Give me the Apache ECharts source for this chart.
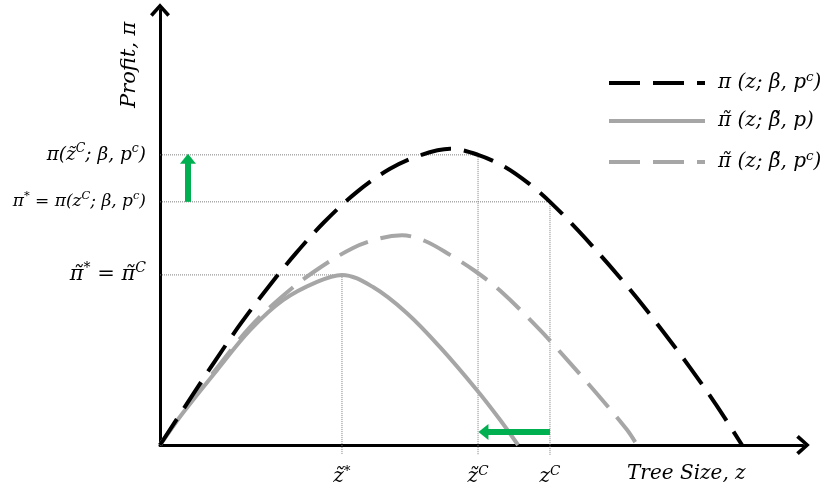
<!DOCTYPE html>
<html><head><meta charset="utf-8">
<script src="https://cdn.jsdelivr.net/npm/echarts@6/dist/echarts.min.js"></script>
<style>html,body{margin:0;padding:0;background:#fff}#c{width:836px;height:494px}</style>
</head><body><div id="c"></div>
<script>
// ---- Data (arbitrary units: z 0..100, profit 0..100) ----
// Black dashed: pi(z; beta, p^c)
const piZ = [0, 4.98, 8.55, 12.60, 16.95, 21.15, 25.51, 30.64, 35.77, 40.44, 45.10, 49.46, 53.65, 57.54, 60.65, 65.16, 69.83, 74.18, 78.38, 82.43, 86.47, 90.51];
const piV = [0, 11.3, 19.3, 28.0, 36.5, 44.1, 51.2, 58.2, 63.5, 66.6, 68.1, 66.7, 63.9, 59.9, 55.9, 49.1, 41.4, 33.8, 25.8, 17.8, 9.3, 0];
// Gray solid: pi~(z; beta~, p)
const tpZ = [0, 3.58, 8.86, 14.00, 19.13, 24.42, 28.30, 33.13, 38.41, 43.55, 49.30, 52.88, 55.68];
const tpV = [0, 7.4, 17.2, 26.4, 33.3, 37.5, 39.1, 36.3, 30.3, 22.5, 12.6, 5.8, 0];
// Gray dashed: pi~(z; beta~, p^c)
const tcZ = [0, 3.58, 8.86, 14.00, 19.13, 24.11, 30.02, 34.21, 37.64, 41.21, 45.10, 48.99, 52.88, 58.94, 63.61, 68.12, 72.63, 74.18];
const tcV = [0, 7.6, 17.7, 27.1, 34.3, 40.0, 45.3, 47.5, 48.2, 46.9, 43.7, 40.0, 35.5, 26.7, 19.1, 11.5, 3.5, 0];

// Key points
const xTickValues = [28.30, 49.46, 60.65];           // z~*, z~C, zC
const xTickLabels = ['{x|z\u0303}{xs|*}', '{x|z\u0303}{xs|C}', '{x|z}{xs|C}'];
const yTickValues = [39.1, 55.9, 66.7];               // pi~*, pi*, pi(z~C)
const yTickLabels = [
  '{L|\u03C0\u0303}{Ls|*}{L| = \u03C0\u0303}{Ls|C}',
  '{S|\u03C0}{Ss|*}{S| = \u03C0(z}{Ss|C}{S|; \u03B2, p}{Ss|c}{S|)}',
  '{M|\u03C0(z\u0303}{Ms|C}{M|; \u03B2, p}{Ms|c}{M|)}'
];
// guide points (z, profit) matching yTickValues
const guideZ = [28.30, 60.65, 49.46];

// green arrows
const arrowUpZ = 4.35, arrowUpFrom = 55.9, arrowUpTo = 65.8;
const arrowLeftPi = 3.0, arrowLeftFrom = 60.65, arrowLeftTo = 50.3;

const seriesNames = ['pi_beta_pc', 'pitilde_betatilde_p', 'pitilde_betatilde_pc'];
const legendLabels = [
  '{m|\u03C0 (z; \u03B2, p}{ms|c}{m|)}',
  '{m|\u03C0\u0303 (z; \u03B2\u0303, p)}',
  '{m|\u03C0\u0303 (z; \u03B2\u0303, p}{ms|c}{m|)}'
];

const FF = '"DejaVu Serif", "Liberation Serif", serif';
function pairs(xs, ys) { return xs.map((x, i) => [x, ys[i]]); }
function rich(size, sup) {
  return {
    main: {fontFamily: FF, fontStyle: 'italic', fontSize: size, color: '#000', lineHeight: size + 6},
    sup: {fontFamily: FF, fontStyle: 'italic', fontSize: sup, color: '#000', verticalAlign: 'top', lineHeight: size + 6}
  };
}
const rL = rich(21, 14), rM = rich(18.5, 12.5), rS = rich(17, 11.5), rX = rich(20, 13.5), rLeg = rich(20, 13.5);

const chevron = 'path://M10,0 L20,11 L17.3,13.6 L10,5.2 L2.7,13.6 L0,11 Z';
const guideStyle = {color: '#7f7f7f', width: 1, type: [1, 1]};

const guideSeries = [];
yTickValues.forEach((v, i) => {
  guideSeries.push({type: 'line', data: [[0, v], [guideZ[i], v]], symbol: 'none', silent: true, clip: false, lineStyle: guideStyle, z: 1});
  guideSeries.push({type: 'line', data: [[guideZ[i], v], [guideZ[i], -2.3]], symbol: 'none', silent: true, clip: false, lineStyle: guideStyle, z: 1});
});

const chart = echarts.init(document.getElementById('c'), null, {renderer: 'canvas'});
chart.setOption({
  animation: false,
  backgroundColor: '#fff',
  grid: {left: 160, right: 33, top: 10, bottom: 49, containLabel: false},
  xAxis: {
    type: 'value', min: 0, max: 100,
    axisLine: {show: true, onZero: false, lineStyle: {color: '#000', width: 3}, symbol: ['none', chevron], symbolSize: [20, 14]},
    axisTick: {show: false}, splitLine: {show: false},
    axisLabel: {
      customValues: xTickValues, margin: 19,
      formatter: (val) => { let k = 0, d = 1e9; xTickValues.forEach((t, i) => { if (Math.abs(t - val) < d) { d = Math.abs(t - val); k = i; } }); return xTickLabels[k]; },
      rich: {x: rX.main, xs: rX.sup}
    }
  },
  yAxis: {
    type: 'value', min: 0, max: 100,
    axisLine: {show: true, onZero: false, lineStyle: {color: '#000', width: 3}, symbol: ['none', chevron], symbolSize: [20, 14]},
    axisTick: {show: false}, splitLine: {show: false},
    axisLabel: {
      customValues: yTickValues, margin: 14,
      formatter: (val) => { let k = 0, d = 1e9; yTickValues.forEach((t, i) => { if (Math.abs(t - val) < d) { d = Math.abs(t - val); k = i; } }); return yTickLabels[k]; },
      rich: {L: rL.main, Ls: rL.sup, M: rM.main, Ms: rM.sup, S: rS.main, Ss: rS.sup}
    }
  },
  legend: {
    data: seriesNames, orient: 'vertical', left: 607, top: 70, padding: 0,
    itemWidth: 96, itemHeight: 20, itemGap: 18,
    lineStyle: {width: 4},
    itemStyle: {opacity: 0},
    formatter: (name) => legendLabels[seriesNames.indexOf(name)],
    textStyle: {padding: [0, 0, 0, 8], rich: {m: rLeg.main, ms: rLeg.sup}},
    selectedMode: false
  },
  graphic: [
    {type: 'text', x: 627, y: 474, style: {text: 'Tree Size, z', font: 'italic 20px ' + FF, fill: '#000', align: 'left', verticalAlign: 'middle'}},
    {type: 'text', x: 130, y: 108, rotation: Math.PI / 2, style: {text: 'Profit, \u03C0', font: 'italic 21px ' + FF, fill: '#000', align: 'left', verticalAlign: 'middle'}}
  ],
  series: [
    {name: seriesNames[0], type: 'line', data: pairs(piZ, piV), smooth: 0.35, symbol: 'none', lineStyle: {color: '#000', width: 4, type: [31, 13]}, itemStyle: {color: '#000'}, z: 4},
    {name: seriesNames[1], type: 'line', data: pairs(tpZ, tpV), smooth: 0.35, symbol: 'none', lineStyle: {color: '#a6a6a6', width: 4, type: 'solid'}, itemStyle: {color: '#a6a6a6'}, z: 3},
    {name: seriesNames[2], type: 'line', data: pairs(tcZ, tcV), smooth: 0.35, symbol: 'none', lineStyle: {color: '#a6a6a6', width: 4, type: [31, 13]}, itemStyle: {color: '#a6a6a6'}, z: 3},
    ...guideSeries,
    {type: 'line', data: [], symbol: 'none', silent: true, z: 5,
      markLine: {
        silent: true, animation: false, symbol: ['none', 'triangle'], symbolSize: [16, 10],
        label: {show: false}, emphasis: {disabled: true},
        lineStyle: {color: '#00b050', width: 6, type: 'solid'},
        data: [
          [{coord: [arrowUpZ, arrowUpFrom]}, {coord: [arrowUpZ, arrowUpTo]}],
          [{coord: [arrowLeftFrom, arrowLeftPi]}, {coord: [arrowLeftTo, arrowLeftPi]}]
        ]
      }
    }
  ]
});
</script></body></html>
